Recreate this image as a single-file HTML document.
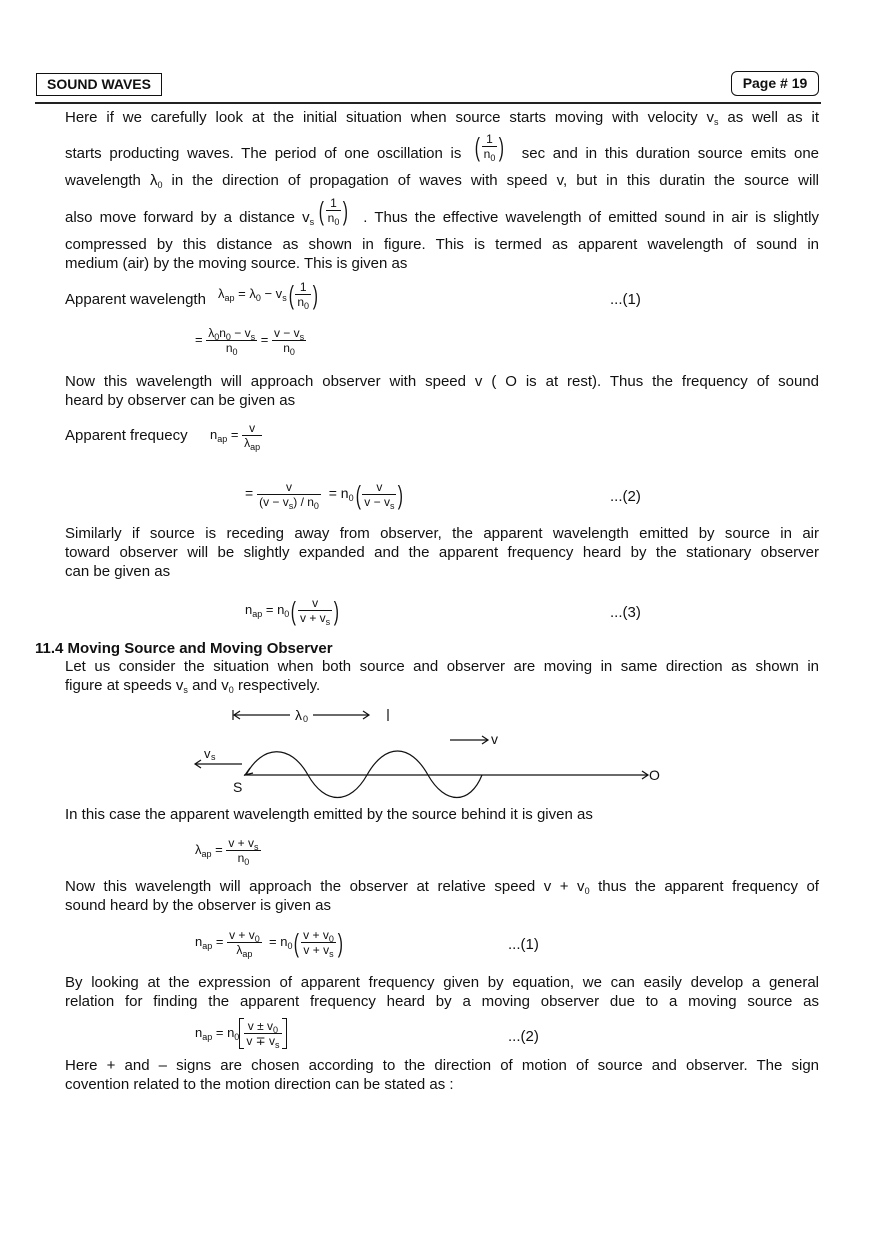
<!DOCTYPE html>
<html><head><meta charset="utf-8">
<style>
body{margin:0;background:#fff;}
#p{position:relative;width:880px;height:1244px;background:#fff;font-family:"Liberation Sans",Arial,sans-serif;color:#111;overflow:hidden}
.l{position:absolute;left:65px;width:754px;font-size:15px;line-height:18px;white-space:nowrap}
.j{text-align:justify;text-align-last:justify;white-space:normal}
.a{position:absolute;font-size:13px;line-height:15px;white-space:nowrap}
sub{font-size:9px;vertical-align:-3px;line-height:0}
.fr{display:inline-block;vertical-align:middle;text-align:center;font-size:12px;line-height:14px}
.fr .n{display:block;border-bottom:1px solid #111;padding:0 2px}
.fr .d{display:block;padding:0 2px}
.pl{font-size:26px;font-weight:100;vertical-align:middle;line-height:20px;transform:scaleX(.6);display:inline-block}
.bk{display:inline-block;vertical-align:middle;position:relative;padding:1px 4px;border-left:1px solid #111;border-right:1px solid #111}
.bk:before,.bk:after{content:"";position:absolute;left:0;right:0;height:0}
.bk:before{top:0;border-top:1px solid #111;left:0;width:4px}
.bk:after{bottom:0;border-bottom:1px solid #111;left:0;width:4px}
.bk .t1,.bk .t2{position:absolute;right:0;width:4px;height:0}
.bk .t1{top:0;border-top:1px solid #111}
.bk .t2{bottom:0;border-bottom:1px solid #111}
</style></head><body><div id="p">
<div style="position:absolute;left:36px;top:73px;width:124px;height:21px;border:1.5px solid #111;font-weight:bold;font-size:14px;line-height:21px;text-align:center">SOUND WAVES</div>
<div style="position:absolute;left:731px;top:71px;width:86px;height:23px;border:1.5px solid #111;border-radius:6px;font-weight:bold;font-size:14px;line-height:23px;text-align:center">Page # 19</div>
<div style="position:absolute;left:35px;top:102px;width:786px;height:2px;background:#222"></div>

<div class="l j" style="top:109px">Here if we carefully look at the initial situation when source starts moving with velocity v<sub>s</sub> as well as it</div>
<div class="l j" style="top:145px">starts producting waves. The period of one oscillation is <span style="display:inline-block;width:45px"></span> sec and in this duration source emits one</div>
<div class="a" style="left:473px;top:132px"><span class="pl">(</span><span class="fr"><span class="n">1</span><span class="d">n<sub>0</sub></span></span><span class="pl">)</span></div>
<div class="l j" style="top:172px">wavelength λ<sub>0</sub> in the direction of propagation of waves with speed v, but in this duratin the source will</div>
<div class="l j" style="top:209px">also move forward by a distance v<sub>s</sub> <span style="display:inline-block;width:42px"></span>. Thus the effective wavelength of emitted sound in air is slightly</div>
<div class="a" style="left:317px;top:196px"><span class="pl">(</span><span class="fr"><span class="n">1</span><span class="d">n<sub>0</sub></span></span><span class="pl">)</span></div>
<div class="l j" style="top:236px">compressed by this distance as shown in figure. This is termed as apparent wavelength of sound in</div>
<div class="l" style="top:255px">medium (air) by the moving source. This is given as</div>

<div class="l" style="top:291px">Apparent wavelength</div>
<div class="a" style="left:218px;top:280px">λ<sub>ap</sub> = λ<sub>0</sub> − v<sub>s</sub><span class="pl">(</span><span class="fr"><span class="n">1</span><span class="d">n<sub>0</sub></span></span><span class="pl">)</span></div>
<div class="l" style="top:291px;left:610px;width:60px">...(1)</div>
<div class="a" style="left:195px;top:326px">= <span class="fr"><span class="n">λ<sub>0</sub>n<sub>0</sub> − v<sub>s</sub></span><span class="d">n<sub>0</sub></span></span> = <span class="fr"><span class="n">v − v<sub>s</sub></span><span class="d">n<sub>0</sub></span></span></div>

<div class="l j" style="top:373px">Now this wavelength will approach observer with speed v ( O is at rest). Thus the frequency of sound</div>
<div class="l" style="top:392px">heard by observer can be given as</div>
<div class="l" style="top:427px">Apparent frequecy</div>
<div class="a" style="left:210px;top:421px">n<sub>ap</sub> = <span class="fr"><span class="n">v</span><span class="d">λ<sub>ap</sub></span></span></div>
<div class="a" style="left:245px;top:480px;font-size:14px">= <span class="fr"><span class="n">v</span><span class="d">(v − v<sub>s</sub>) / n<sub>0</sub></span></span> &nbsp;= n<sub>0</sub><span class="pl">(</span><span class="fr"><span class="n">v</span><span class="d">v − v<sub>s</sub></span></span><span class="pl">)</span></div>
<div class="l" style="top:488px;left:610px;width:60px">...(2)</div>

<div class="l j" style="top:525px">Similarly if source is receding away from observer, the apparent wavelength emitted by source in air</div>
<div class="l j" style="top:544px">toward observer will be slightly expanded and the apparent frequency heard by the stationary observer</div>
<div class="l" style="top:563px">can be given as</div>
<div class="a" style="left:245px;top:596px">n<sub>ap</sub> = n<sub>0</sub><span class="pl">(</span><span class="fr"><span class="n">v</span><span class="d">v + v<sub>s</sub></span></span><span class="pl">)</span></div>
<div class="l" style="top:604px;left:610px;width:60px">...(3)</div>

<div class="l" style="top:640px;left:35px;font-weight:bold">11.4 Moving Source and Moving Observer</div>
<div class="l j" style="top:658px">Let us consider the situation when both source and observer are moving in same direction as shown in</div>
<div class="l" style="top:677px">figure at speeds v<sub>s</sub> and v<sub>0</sub> respectively.</div>

<svg style="position:absolute;left:0;top:0" width="880" height="1244" viewBox="0 0 880 1244">
<g stroke="#111" fill="none" stroke-width="1.2">
<line x1="233" y1="710" x2="233" y2="720"/><line x1="234" y1="715" x2="290" y2="715"/><path d="M240 711 L234 715 L240 719"/>
<line x1="313" y1="715" x2="369" y2="715"/><path d="M363 711 L369 715 L363 719"/>
<line x1="388" y1="709" x2="388" y2="721"/>
<line x1="450" y1="740" x2="488" y2="740"/><path d="M482 736 L488 740 L482 744"/>
<line x1="195" y1="764" x2="242" y2="764"/><path d="M201 760 L195 764 L201 768"/>
<line x1="244" y1="775" x2="648" y2="775"/><path d="M642 771 L648 775 L642 779"/>
<path d="M246 775 C262 745 290 743 308 775 C325 805 350 805 367 775 C385 743 410 743 428 775 C445 805 470 805 482 775"/>
<path d="M250 768 L245 775 L253 773"/>
</g>
<g font-family="Liberation Sans,Arial,sans-serif" fill="#111">
<text x="295" y="720" font-size="14">λ</text><text x="303" y="722" font-size="9">0</text>
<text x="491" y="744" font-size="14">v</text>
<text x="204" y="758" font-size="13">v</text><text x="211" y="760" font-size="9">s</text>
<text x="233" y="792" font-size="14">S</text>
<text x="649" y="780" font-size="14">O</text>
</g>
</svg>

<div class="l" style="top:806px">In this case the apparent wavelength emitted by the source behind it is given as</div>
<div class="a" style="left:195px;top:836px">λ<sub>ap</sub> = <span class="fr"><span class="n">v + v<sub>s</sub></span><span class="d">n<sub>0</sub></span></span></div>
<div class="l j" style="top:878px">Now this wavelength will approach the observer at relative speed v + v<sub>0</sub> thus the apparent frequency of</div>
<div class="l" style="top:897px">sound heard by the observer is given as</div>
<div class="a" style="left:195px;top:928px">n<sub>ap</sub> = <span class="fr"><span class="n">v + v<sub>0</sub></span><span class="d">λ<sub>ap</sub></span></span> &nbsp;= n<sub>0</sub><span class="pl">(</span><span class="fr"><span class="n">v + v<sub>0</sub></span><span class="d">v + v<sub>s</sub></span></span><span class="pl">)</span></div>
<div class="l" style="top:936px;left:508px;width:60px">...(1)</div>
<div class="l j" style="top:974px">By looking at the expression of apparent frequency given by equation, we can easily develop a general</div>
<div class="l j" style="top:993px">relation for finding the apparent frequency heard by a moving observer due to a moving source as</div>
<div class="a" style="left:195px;top:1018px">n<sub>ap</sub> = n<sub>0</sub><span class="bk"><span class="t1"></span><span class="t2"></span><span class="fr"><span class="n">v ± v<sub>0</sub></span><span class="d">v ∓ v<sub>s</sub></span></span></span></div>
<div class="l" style="top:1028px;left:508px;width:60px">...(2)</div>
<div class="l j" style="top:1057px">Here + and – signs are chosen according to the direction of motion of source and observer. The sign</div>
<div class="l" style="top:1076px">covention related to the motion direction can be stated as :</div>
</div></body></html>
